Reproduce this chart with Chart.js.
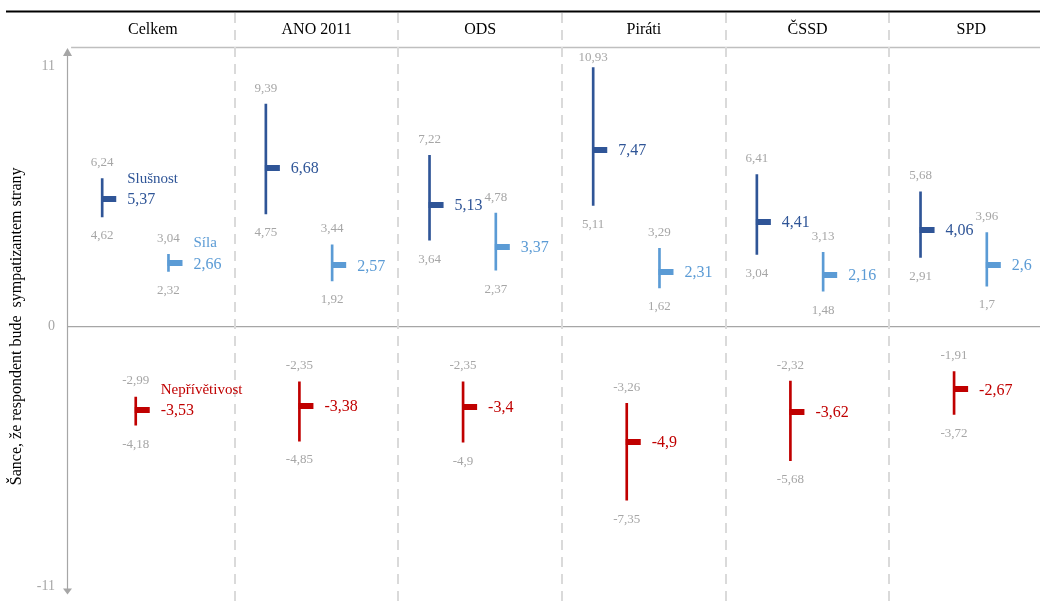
<!DOCTYPE html>
<html>
<head>
<meta charset="utf-8">
<script src="https://cdn.jsdelivr.net/npm/chart.js@4"></script>
<style>
  html, body { margin: 0; padding: 0; background: #fff; overflow: hidden; }
  canvas { display: block; }
</style>
</head>
<body>
<canvas id="graf" width="1048" height="607"></canvas>
<script>
// strany (sloupce)
const parties = ["Celkem", "ANO 2011", "ODS", "Piráti", "ČSSD", "SPD"];

// Slušnost – průměr a interval
const slusnostMean = [5.37, 6.68, 5.13, 7.47, 4.41, 4.06];
const slusnostLow  = [4.62, 4.75, 3.64, 5.11, 3.04, 2.91];
const slusnostHigh = [6.24, 9.39, 7.22, 10.93, 6.41, 5.68];

// Síla
const silaMean = [2.66, 2.57, 3.37, 2.31, 2.16, 2.6];
const silaLow  = [2.32, 1.92, 2.37, 1.62, 1.48, 1.7];
const silaHigh = [3.04, 3.44, 4.78, 3.29, 3.13, 3.96];

// Nepřívětivost
const neprMean = [-3.53, -3.38, -3.4, -4.9, -3.62, -2.67];
const neprLow  = [-4.18, -4.85, -4.9, -7.35, -5.68, -3.72];
const neprHigh = [-2.99, -2.35, -2.35, -3.26, -2.32, -1.91];

const yTicks = [-11, 0, 11];

const SERIF = '"Liberation Serif", "Times New Roman", serif';
const GREY = "#a6a6a6";

const series = [
  { name: "Slušnost", color: "#2f5597", pos: 0.19, mean: slusnostMean, low: slusnostLow, high: slusnostHigh },
  { name: "Nepřívětivost", color: "#c00000", pos: 0.395, mean: neprMean, low: neprLow, high: neprHigh },
  { name: "Síla", color: "#5b9bd5", pos: 0.595, mean: silaMean, low: silaLow, high: silaHigh }
];

const fmt = v => String(v).replace(".", ",");

// vodorovná značka průměru vystupující doprava ze svislé čáry
function tickMark(color) {
  const c = document.createElement("canvas");
  c.width = 30; c.height = 6;
  const g = c.getContext("2d");
  g.fillStyle = color;
  g.fillRect(14, 0, 15, 6);
  return c;
}

const datasets = [];
series.forEach(s => {
  datasets.push({
    type: "bar",
    label: s.name,
    data: parties.map((p, i) => ({ x: i + s.pos, y: [s.low[i], s.high[i]] })),
    backgroundColor: s.color,
    barThickness: 2,
    grouped: false
  });
});
series.forEach(s => {
  datasets.push({
    type: "scatter",
    label: s.name + " průměr",
    data: parties.map((p, i) => ({ x: i + s.pos, y: s.mean[i] })),
    pointStyle: tickMark(s.color),
    pointRadius: 8,
    borderWidth: 0
  });
});

const decor = {
  id: "decor",
  beforeDatasetsDraw(chart) {
    const { ctx, chartArea: a, scales: { x, y } } = chart;
    ctx.save();
    // čára nahoře
    ctx.strokeStyle = "#000";
    ctx.lineWidth = 2;
    ctx.beginPath(); ctx.moveTo(6, 11.5); ctx.lineTo(a.right, 11.5); ctx.stroke();
    // čára pod záhlavím
    ctx.strokeStyle = "#bfbfbf";
    ctx.lineWidth = 1.5;
    ctx.beginPath(); ctx.moveTo(x.getPixelForValue(0), 47.5); ctx.lineTo(a.right, 47.5); ctx.stroke();
    // přerušované oddělovače sloupců
    ctx.strokeStyle = "#dadada";
    ctx.lineWidth = 2;
    ctx.setLineDash([10, 7]);
    for (let i = 1; i < parties.length; i++) {
      const px = Math.round(x.getPixelForValue(i));
      ctx.beginPath(); ctx.moveTo(px, 13); ctx.lineTo(px, chart.height); ctx.stroke();
    }
    ctx.setLineDash([]);
    // názvy stran
    ctx.fillStyle = "#000";
    ctx.font = "16px " + SERIF;
    ctx.textAlign = "center";
    ctx.textBaseline = "middle";
    parties.forEach((p, i) => ctx.fillText(p, x.getPixelForValue(i + 0.5), 30));
    // osa y se šipkami
    const ax = a.left + 0.5;
    const top = a.top - 18, bot = a.bottom + 8;
    ctx.strokeStyle = GREY;
    ctx.fillStyle = GREY;
    ctx.lineWidth = 1.2;
    ctx.beginPath(); ctx.moveTo(ax, top + 4); ctx.lineTo(ax, bot - 4); ctx.stroke();
    ctx.beginPath(); ctx.moveTo(ax, top); ctx.lineTo(ax - 4.5, top + 8); ctx.lineTo(ax + 4.5, top + 8); ctx.closePath(); ctx.fill();
    ctx.beginPath(); ctx.moveTo(ax, bot); ctx.lineTo(ax - 4.5, bot - 6); ctx.lineTo(ax + 4.5, bot - 6); ctx.closePath(); ctx.fill();
    ctx.restore();
  },
  afterDatasetsDraw(chart) {
    const { ctx, chartArea: a, scales: { x, y } } = chart;
    ctx.save();
    ctx.textBaseline = "middle";
    series.forEach(s => {
      parties.forEach((p, i) => {
        const px = x.getPixelForValue(i + s.pos);
        // meze intervalu (horní popisek nesmí přelézt čáru záhlaví)
        ctx.fillStyle = GREY;
        ctx.font = "13px " + SERIF;
        ctx.textAlign = "center";
        ctx.fillText(fmt(s.high[i]), px, Math.max(y.getPixelForValue(s.high[i]) - 16, a.top - 8));
        ctx.fillText(fmt(s.low[i]), px, y.getPixelForValue(s.low[i]) + 19);
        // průměr
        const my = y.getPixelForValue(s.mean[i]) + 1;
        ctx.fillStyle = s.color;
        ctx.font = "16px " + SERIF;
        ctx.textAlign = "left";
        ctx.fillText(fmt(s.mean[i]), px + 25, my);
        // název řady jen u "Celkem"
        if (i === 0) {
          ctx.font = "15px " + SERIF;
          ctx.fillText(s.name, px + 25, my - 21);
        }
      });
    });
    ctx.restore();
  }
};

new Chart(document.getElementById("graf"), {
  type: "bar",
  data: { datasets },
  options: {
    responsive: false,
    animation: false,
    layout: { padding: { top: 66, bottom: 11, left: 0, right: 0 } },
    plugins: { legend: { display: false }, tooltip: { enabled: false } },
    scales: {
      x: {
        type: "linear",
        min: -0.025,
        max: 5.92,
        offset: false,
        display: false
      },
      y: {
        min: -11,
        max: 11,
        afterFit(scale) { scale.width = 67; },
        afterBuildTicks(scale) { scale.ticks = yTicks.map(v => ({ value: v })); },
        border: { display: false },
        grid: {
          drawTicks: false,
          color: c => (c.tick && c.tick.value === 0 ? GREY : "rgba(0,0,0,0)"),
          lineWidth: 1.2
        },
        ticks: {
          padding: 12,
          color: GREY,
          font: { family: SERIF, size: 14 },
          callback: v => String(v)
        },
        title: {
          display: true,
          text: "Šance, že respondent bude  sympatizantem strany",
          color: "#000",
          font: { family: SERIF, size: 16 },
          padding: { top: 7, bottom: 0 }
        }
      }
    }
  },
  plugins: [decor]
});
</script>
</body>
</html>
